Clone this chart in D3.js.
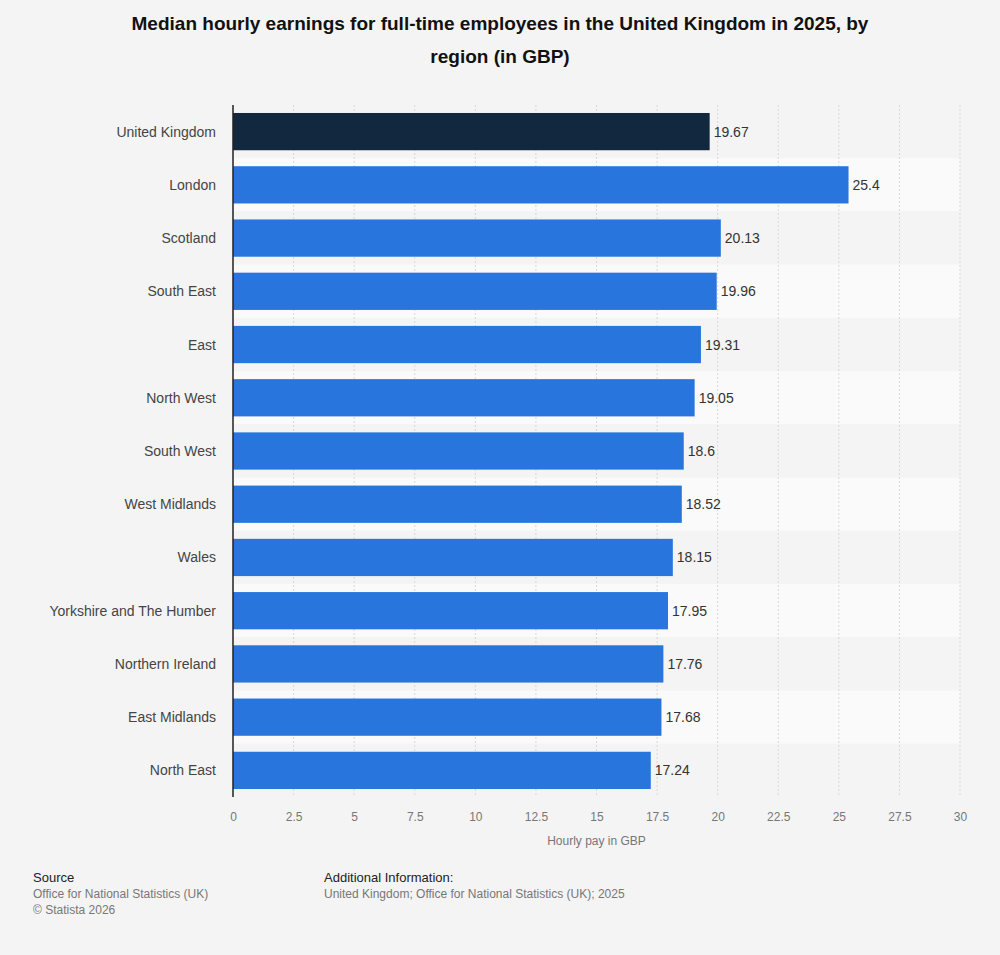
<!DOCTYPE html>
<html><head><meta charset="utf-8">
<script src="https://cdn.jsdelivr.net/npm/d3@7"></script>
<style>body{margin:0;background:#f4f4f4;font-family:"Liberation Sans",Arial,sans-serif}</style>
</head><body>
<script>
var regions = ["United Kingdom","London","Scotland","South East","East","North West","South West","West Midlands","Wales","Yorkshire and The Humber","Northern Ireland","East Midlands","North East"];
var pay = [19.67,25.4,20.13,19.96,19.31,19.05,18.6,18.52,18.15,17.95,17.76,17.68,17.24];
var ticks = [0,2.5,5,7.5,10,12.5,15,17.5,20,22.5,25,27.5,30];

var plotLeft = 233, plotRight = 960, plotTop = 105, plotBottom = 797;

var svg = d3.select("body").append("svg")
    .attr("width", 1000).attr("height", 955);

svg.append("rect").attr("width", 1000).attr("height", 955).attr("fill", "#f4f4f4");

svg.append("text").attr("x", 500).attr("y", 30).attr("text-anchor", "middle")
   .attr("font-size", 19).attr("font-weight", "bold").attr("fill", "#111")
   .text("Median hourly earnings for full-time employees in the United Kingdom in 2025, by");
svg.append("text").attr("x", 500).attr("y", 63).attr("text-anchor", "middle")
   .attr("font-size", 19).attr("font-weight", "bold").attr("fill", "#111")
   .text("region (in GBP)");

var x = d3.scaleLinear().domain([0, 30]).range([plotLeft, plotRight]);
var y = d3.scaleBand().domain(regions).range([plotTop, plotBottom]).paddingInner(0.3).paddingOuter(0.15);
var row = d3.scaleBand().domain(regions).range([plotTop, plotBottom]);

// row stripes
svg.selectAll(".stripe").data(regions).enter().append("rect")
   .attr("x", plotLeft).attr("width", plotRight - plotLeft)
   .attr("y", function(d) { return row(d); }).attr("height", row.bandwidth())
   .attr("fill", function(d, i) { return i % 2 ? "#fafafa" : "#f4f4f4"; });

// gridlines
svg.selectAll(".grid").data(ticks.slice(1)).enter().append("line")
   .attr("x1", function(d) { return x(d); }).attr("x2", function(d) { return x(d); })
   .attr("y1", plotTop).attr("y2", plotBottom)
   .attr("stroke", "#d8d8d8").attr("stroke-dasharray", "2,2");

svg.selectAll(".bar").data(regions).enter().append("rect")
   .attr("x", x(0))
   .attr("y", function(d) { return y(d); })
   .attr("height", y.bandwidth())
   .attr("width", function(d, i) { return x(pay[i]) - x(0); })
   .attr("fill", function(d, i) { return i === 0 ? "#12283f" : "#2876dd"; });

svg.selectAll(".val").data(regions).enter().append("text")
   .attr("x", function(d, i) { return x(pay[i]) + 4; })
   .attr("y", function(d) { return y(d) + y.bandwidth() / 2 + 5; })
   .attr("font-size", 14).attr("fill", "#333")
   .text(function(d, i) { return pay[i]; });

svg.selectAll(".lab").data(regions).enter().append("text")
   .attr("x", plotLeft - 17)
   .attr("y", function(d) { return y(d) + y.bandwidth() / 2 + 5; })
   .attr("text-anchor", "end").attr("font-size", 14).attr("fill", "#444")
   .text(function(d) { return d; });

svg.append("line").attr("x1", plotLeft).attr("x2", plotLeft).attr("y1", plotTop).attr("y2", plotBottom)
   .attr("stroke", "#222").attr("stroke-width", 1.5);

var ax = svg.append("g").attr("transform", "translate(0," + (plotBottom + 12) + ")")
   .call(d3.axisBottom(x).tickValues(ticks).tickSize(0).tickFormat(function(d) { return d; }));
ax.select(".domain").remove();
ax.selectAll("text").attr("font-size", 12).attr("fill", "#777")
   .attr("font-family", "Liberation Sans, Arial, sans-serif");

svg.append("text").attr("x", (plotLeft + plotRight) / 2).attr("y", 845).attr("text-anchor", "middle")
   .attr("font-size", 12).attr("fill", "#777").text("Hourly pay in GBP");

svg.append("text").attr("x", 33).attr("y", 882).attr("font-size", 13).attr("fill", "#222").text("Source");
svg.append("text").attr("x", 33).attr("y", 898).attr("font-size", 12).attr("fill", "#777").text("Office for National Statistics (UK)");
svg.append("text").attr("x", 33).attr("y", 914).attr("font-size", 12).attr("fill", "#777").text("© Statista 2026");
svg.append("text").attr("x", 324).attr("y", 882).attr("font-size", 13).attr("fill", "#222").text("Additional Information:");
svg.append("text").attr("x", 324).attr("y", 898).attr("font-size", 12).attr("fill", "#777").text("United Kingdom; Office for National Statistics (UK); 2025");
</script>
</body></html>
